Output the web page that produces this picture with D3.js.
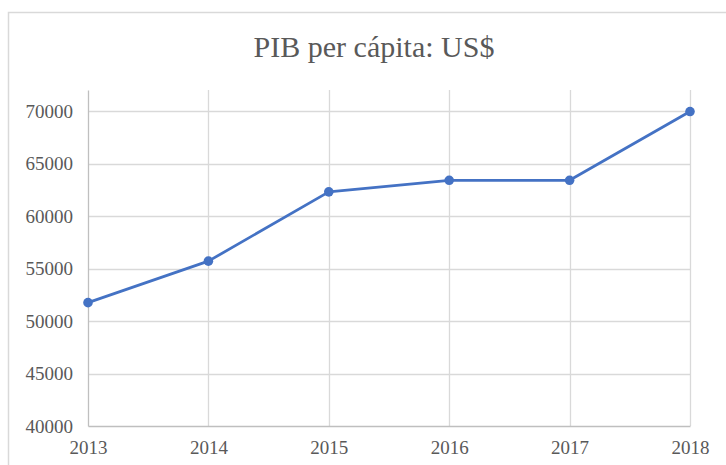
<!DOCTYPE html>
<html>
<head>
<meta charset="utf-8">
<script src="https://cdn.jsdelivr.net/npm/d3@7"></script>
<style>
  body { margin: 0; background: #fff; }
</style>
</head>
<body>
<div id="chart"></div>
<script>
// Chart values
var years = ["2013", "2014", "2015", "2016", "2017", "2018"];
var gdpValues = [51750, 55700, 62300, 63400, 63400, 69950];
var yTicks = [40000, 45000, 50000, 55000, 60000, 65000, 70000];
var chartTitle = "PIB per cápita: US$";

var serif = "'Liberation Serif', 'Times New Roman', serif";

var svgWidth = 726, svgHeight = 465;
var margin = {left: 88, right: 36, top: 90, bottom: 39};

var width = svgWidth - margin.left - margin.right,
    height = svgHeight - margin.top - margin.bottom;

var svg = d3.select("#chart")
    .append("svg")
        .attr("width", svgWidth)
        .attr("height", svgHeight);

// outer chart frame
svg.append("rect")
    .attr("x", 8.5)
    .attr("y", 12.5)
    .attr("width", svgWidth + 10)
    .attr("height", svgHeight + 10)
    .attr("fill", "none")
    .attr("stroke", "#d9d9d9")
    .attr("stroke-width", 1.5);

// title
svg.append("text")
    .attr("x", 374)
    .attr("y", 57)
    .attr("text-anchor", "middle")
    .style("font-family", serif)
    .style("font-size", "30px")
    .style("fill", "#595959")
    .text(chartTitle);

var chartGroup = svg.append("g")
    .attr("transform", `translate(${margin.left}, ${margin.top})`);

// scales
var xScale = d3.scalePoint()
    .domain(years)
    .range([0, width]);

var yScale = d3.scaleLinear()
    .domain([40000, 72000])
    .range([height, 0]);

// horizontal gridlines
chartGroup.append("g")
    .selectAll("line")
    .data(yTicks.slice(1))
    .enter()
    .append("line")
        .attr("x1", 0)
        .attr("x2", width)
        .attr("y1", d => Math.round(yScale(d)) + 0.5)
        .attr("y2", d => Math.round(yScale(d)) + 0.5)
        .attr("stroke", "#d9d9d9")
        .attr("stroke-width", 1.3);

// vertical gridlines
chartGroup.append("g")
    .selectAll("line")
    .data(years.slice(1))
    .enter()
    .append("line")
        .attr("x1", d => Math.round(xScale(d)) + 0.5)
        .attr("x2", d => Math.round(xScale(d)) + 0.5)
        .attr("y1", 0)
        .attr("y2", height)
        .attr("stroke", "#d9d9d9")
        .attr("stroke-width", 1.3);

// axes
var bottomAxis = d3.axisBottom(xScale).tickSize(0).tickPadding(15);
var leftAxis = d3.axisLeft(yScale).tickValues(yTicks).tickFormat(d3.format("d")).tickSize(0).tickPadding(15);

var xAxis = chartGroup.append("g")
    .attr("transform", `translate(0, ${height})`)
    .call(bottomAxis);

var yAxis = chartGroup.append("g")
    .call(leftAxis);

xAxis.select(".domain").attr("stroke", "#bfbfbf").attr("stroke-width", 1.3);
yAxis.select(".domain").attr("stroke", "#bfbfbf").attr("stroke-width", 1.3);
chartGroup.selectAll(".tick text")
    .style("font-family", serif)
    .style("font-size", "19px")
    .style("fill", "#595959");

// line
var line = d3.line()
    .x((d, i) => xScale(years[i]))
    .y(d => yScale(d));

chartGroup.append("path")
    .datum(gdpValues)
    .attr("d", line)
    .attr("fill", "none")
    .attr("stroke", "#4472c4")
    .attr("stroke-width", 2.8)
    .attr("stroke-linejoin", "round");

// markers
chartGroup.selectAll("circle")
    .data(gdpValues)
    .enter()
    .append("circle")
        .attr("cx", (d, i) => xScale(years[i]))
        .attr("cy", d => yScale(d))
        .attr("r", 4.8)
        .attr("fill", "#4472c4");
</script>
</body>
</html>
